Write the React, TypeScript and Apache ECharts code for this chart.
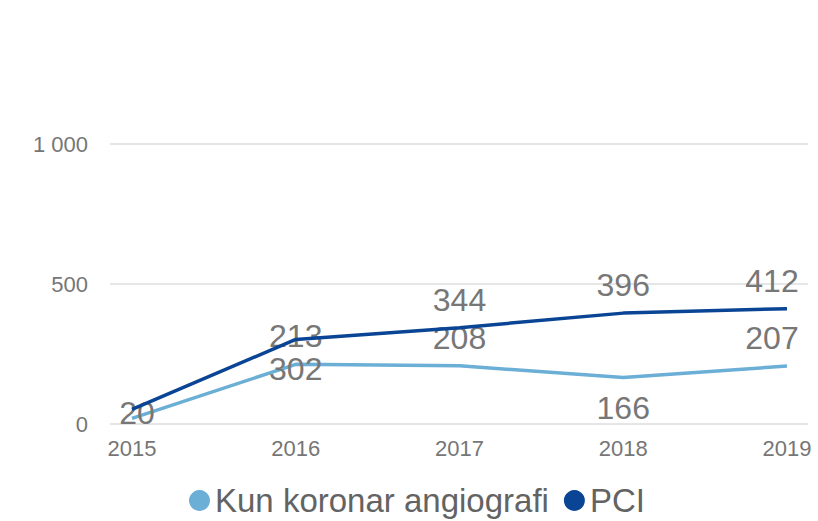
import React, { useEffect, useRef } from "react";
import * as echarts from "echarts";

const years = ["2015", "2016", "2017", "2018", "2019"];
const kunKoronar = [20, 213, 208, 166, 207];
const pci = [52, 302, 344, 396, 412];
const kunLabelPos = ["inside", "top", "top", "bottom", "top"];
const pciLabelPos = ["none", "bottom", "top", "top", "top"];
const yTicks = [0, 500, 1000];

const LIGHT = "#6baed6";
const DARK = "#0a4595";
const FONT = "'Liberation Sans', Arial, sans-serif";

function toData(values: number[], positions: string[]) {
  const last = values.length - 1;
  return values.map((v, i) => {
    const pos = positions[i];
    if (pos === "none") return { value: v, label: { show: false } };
    if (pos === "inside")
      return { value: v, label: { position: "inside", offset: [5, -5] } };
    return {
      value: v,
      label: {
        position: pos,
        distance: pos === "top" ? 12 : 14,
        offset: i === last ? [-15, 0] : [0, 0],
      },
    };
  });
}

export default function App() {
  const ref = useRef<HTMLDivElement>(null);
  useEffect(() => {
    if (!ref.current) return;
    const chart = echarts.init(ref.current, null, { renderer: "svg" });
    const labelStyle = {
      show: true,
      fontSize: 32,
      color: "#777777",
      fontFamily: FONT,
    };
    chart.setOption({
      animation: false,
      backgroundColor: "#ffffff",
      grid: [
        { left: 110, right: 10, top: 144, bottom: 97 },
        { left: 132, right: 31, top: 144, bottom: 97 },
      ],
      xAxis: [
        { gridIndex: 0, type: "value", show: false, min: 0, max: 1 },
        {
          gridIndex: 1,
          type: "category",
          data: years,
          boundaryGap: false,
          axisLine: { show: false },
          axisTick: { show: false },
          axisLabel: {
            fontSize: 22,
            color: "#767676",
            fontFamily: FONT,
            margin: 13,
          },
        },
      ],
      yAxis: [
        {
          gridIndex: 0,
          type: "value",
          min: yTicks[0],
          max: yTicks[yTicks.length - 1],
          interval: yTicks[1] - yTicks[0],
          axisLine: { show: false },
          axisTick: { show: false },
          splitLine: { lineStyle: { color: "#e6e6e6", width: 2 } },
          axisLabel: {
            fontSize: 22,
            color: "#767676",
            fontFamily: FONT,
            margin: 22,
            formatter: (v: number) =>
              String(v).replace(/\B(?=(\d{3})+(?!\d))/g, " "),
          },
        },
        {
          gridIndex: 1,
          type: "value",
          min: yTicks[0],
          max: yTicks[yTicks.length - 1],
          show: false,
          splitLine: { show: false },
        },
      ],
      legend: {
        data: ["Kun koronar angiografi", "PCI"],
        left: 184,
        top: 479,
        icon: "circle",
        itemWidth: 21,
        itemHeight: 21,
        itemGap: 15,
        textStyle: { fontSize: 33, color: "#636363", fontFamily: FONT },
      },
      series: [
        {
          name: "Kun koronar angiografi",
          type: "line",
          xAxisIndex: 1,
          yAxisIndex: 1,
          data: toData(kunKoronar, kunLabelPos),
          symbol: "circle",
          symbolSize: 0.01,
          showSymbol: true,
          color: LIGHT,
          lineStyle: { color: LIGHT, width: 3.5 },
          label: labelStyle,
          z: 2,
        },
        {
          name: "PCI",
          type: "line",
          xAxisIndex: 1,
          yAxisIndex: 1,
          data: toData(pci, pciLabelPos),
          symbol: "circle",
          symbolSize: 0.01,
          showSymbol: true,
          color: DARK,
          lineStyle: { color: DARK, width: 3.5 },
          label: labelStyle,
          z: 3,
        },
      ],
    });
    return () => chart.dispose();
  }, []);
  return <div ref={ref} style={{ width: 818, height: 521, position: "absolute", left: 0, top: 0 }} />;
}
